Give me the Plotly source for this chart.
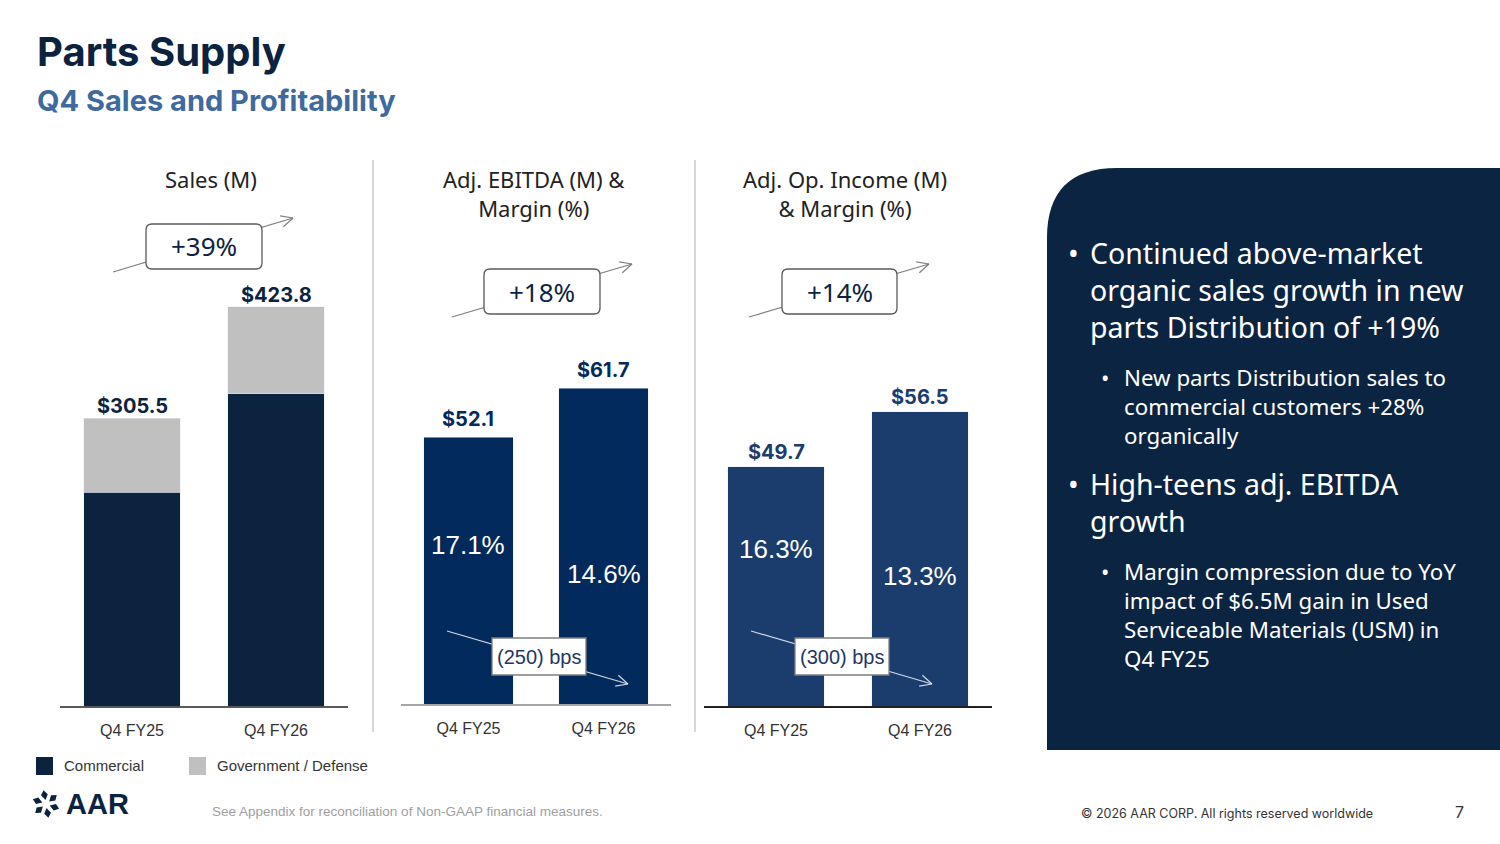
import math
import plotly.graph_objects as go

W, H = 1500, 844

# ---- data ----
quarters = ['Q4 FY25', 'Q4 FY26']
sales_total = [305.5, 423.8]
sales_commercial = [227.0, 331.4]
sales_govt = [round(t - c, 1) for t, c in zip(sales_total, sales_commercial)]
ebitda = [52.1, 61.7]
ebitda_margin = ['17.1%', '14.6%']
op_income = [49.7, 56.5]
op_margin = ['16.3%', '13.3%']
growth_labels = ['+39%', '+18%', '+14%']
bps_labels = ['(250) bps', '(300) bps']
panel_titles = ['Sales (M)', 'Adj. EBITDA (M) &<br>Margin (%)', 'Adj. Op. Income (M)<br>& Margin (%)']
segment_names = ['Commercial', 'Government / Defense']

NAVY = '#0c2340'
GREY = '#c0c0c0'
EBITDA_C = '#022a5c'
OPINC_C = '#1a3d6e'
PANEL = '#0b2441'
FONT = 'Inter, Noto Sans, sans-serif'
BODY = 'Noto Sans, sans-serif'
ARIAL = 'Liberation Sans, Arial, sans-serif'


def px(x):
    return x / W


def py(y):
    return 1 - y / H


fig = go.Figure()

fig.add_trace(go.Bar(x=quarters, y=sales_commercial, name=segment_names[0], marker_color=NAVY,
                     width=0.667, xaxis='x', yaxis='y'))
fig.add_trace(go.Bar(x=quarters, y=sales_govt, name=segment_names[1], marker_color=GREY,
                     width=0.667, xaxis='x', yaxis='y'))
fig.add_trace(go.Bar(x=quarters, y=ebitda, marker_color=EBITDA_C, width=0.66,
                     xaxis='x2', yaxis='y2'))
fig.add_trace(go.Bar(x=quarters, y=op_income, marker_color=OPINC_C, width=0.667,
                     xaxis='x3', yaxis='y3'))

axis_common = dict(showgrid=False, zeroline=False, showline=True, linewidth=1.5,
                   tickfont=dict(family=ARIAL, size=16, color='#333333'),
                   ticklabelstandoff=9, fixedrange=True)
yaxis_common = dict(showgrid=False, zeroline=False, showticklabels=False, showline=False, fixedrange=True)

fig.update_layout(
    width=W, height=H, margin=dict(l=0, r=0, t=0, b=0),
    paper_bgcolor='white', plot_bgcolor='rgba(0,0,0,0)',
    barmode='stack', showlegend=False,
    xaxis=dict(domain=[px(60), px(348)], anchor='y', linecolor='#595959', **axis_common),
    yaxis=dict(domain=[py(706), py(150)], range=[0, 590.5], **yaxis_common),
    xaxis2=dict(domain=[px(401), px(671)], anchor='y2', linecolor='#a6a6a6', **axis_common),
    yaxis2=dict(domain=[py(704), py(150)], range=[0, 108.2], **yaxis_common),
    xaxis3=dict(domain=[px(704), px(992)], anchor='y3', linecolor='#222222', **axis_common),
    yaxis3=dict(domain=[py(706), py(150)], range=[20.1, 88.9], **yaxis_common),
)

shapes = []
ann = []


def text(x, y, s, size, color, family=BODY, xanchor='center', yanchor='middle', **kw):
    ann.append(dict(x=px(x), y=py(y), xref='paper', yref='paper', text=s, showarrow=False,
                    xanchor=xanchor, yanchor=yanchor, font=dict(family=family, size=size, color=color), **kw))


# separators
for sx in [373, 695]:
    shapes.append(dict(type='line', xref='paper', yref='paper', x0=px(sx), x1=px(sx),
                       y0=py(160), y1=py(732), line=dict(color='#c8c8c8', width=1.5)))

# right panel with rounded corner
r = 70
x0, y0, x1, y1 = 1047, 168, 1500, 750
path = (f'M {px(x0)},{py(y1)} L {px(x0)},{py(y0 + r)} Q {px(x0)},{py(y0)} {px(x0 + r)},{py(y0)} '
        f'L {px(x1)},{py(y0)} L {px(x1)},{py(y1)} Z')
shapes.append(dict(type='path', xref='paper', yref='paper', path=path,
                   fillcolor=PANEL, line=dict(width=0), layer='below'))


def arrow(xa, ya, xb, yb, color, width=1.2):
    shapes.append(dict(type='line', xref='paper', yref='paper', x0=px(xa), y0=py(ya),
                       x1=px(xb), y1=py(yb), line=dict(color=color, width=width)))
    ang = math.atan2(yb - ya, xb - xa)
    L = 13
    for d in (0.45, -0.45):
        hx = xb - L * math.cos(ang + d)
        hy = yb - L * math.sin(ang + d)
        shapes.append(dict(type='line', xref='paper', yref='paper', x0=px(hx), y0=py(hy),
                           x1=px(xb), y1=py(yb), line=dict(color=color, width=width)))


def rbox(bx0, by0, bx1, by1, rad=6, border='#595959'):
    if rad:
        p = (f'M {px(bx0 + rad)},{py(by0)} L {px(bx1 - rad)},{py(by0)} Q {px(bx1)},{py(by0)} {px(bx1)},{py(by0 + rad)} '
             f'L {px(bx1)},{py(by1 - rad)} Q {px(bx1)},{py(by1)} {px(bx1 - rad)},{py(by1)} '
             f'L {px(bx0 + rad)},{py(by1)} Q {px(bx0)},{py(by1)} {px(bx0)},{py(by1 - rad)} '
             f'L {px(bx0)},{py(by0 + rad)} Q {px(bx0)},{py(by0)} {px(bx0 + rad)},{py(by0)} Z')
        shapes.append(dict(type='path', xref='paper', yref='paper', path=p, fillcolor='white',
                           line=dict(color=border, width=1.3)))
    else:
        shapes.append(dict(type='rect', xref='paper', yref='paper', x0=px(bx0), x1=px(bx1),
                           y0=py(by1), y1=py(by0), fillcolor='white', line=dict(color=border, width=1.3)))


# growth callouts
growth_geo = [((113, 272, 293, 218), (146, 224, 262, 269)),
              ((452, 317, 632, 264), (484, 269, 600, 314)),
              ((749, 317, 929, 264), (782, 269, 897, 314))]
for lbl, (ln, bx) in zip(growth_labels, growth_geo):
    arrow(*ln, color='#7f7f7f')
    rbox(*bx)
    text((bx[0] + bx[2]) / 2, (bx[1] + bx[3]) / 2, lbl, 26, NAVY)

# bps callouts
bps_geo = [((447, 631, 628, 684), (492, 638, 586, 675)),
           ((751, 631, 932, 684), (795, 638, 889, 675))]
for lbl, (ln, bx) in zip(bps_labels, bps_geo):
    arrow(*ln, color='#d0d8e6')
    rbox(*bx, rad=0, border='#7f7f7f')
    text((bx[0] + bx[2]) / 2, (bx[1] + bx[3]) / 2, lbl, 20, '#1f3864', family=ARIAL)

# value labels
for q, v in zip(quarters, sales_total):
    ann.append(dict(x=q, y=v, xref='x', yref='y', text=f'<b>${v:.1f}</b>', showarrow=False,
                    yanchor='bottom', yshift=-2, font=dict(family=FONT, size=20, color=NAVY)))
for q, v in zip(quarters, ebitda):
    ann.append(dict(x=q, y=v, xref='x2', yref='y2', text=f'<b>${v:.1f}</b>', showarrow=False,
                    yanchor='bottom', yshift=4, font=dict(family=FONT, size=20, color=EBITDA_C)))
for q, v in zip(quarters, op_income):
    ann.append(dict(x=q, y=v, xref='x3', yref='y3', text=f'<b>${v:.1f}</b>', showarrow=False,
                    yanchor='bottom', yshift=1, font=dict(family=FONT, size=20, color=OPINC_C)))

# margin labels inside bars
for q, m, yy in zip(quarters, ebitda_margin, [545, 574]):
    ann.append(dict(x=q, y=py(yy), xref='x2', yref='paper', text=m, showarrow=False,
                    yanchor='middle', font=dict(family=ARIAL, size=26, color='white')))
for q, m, yy in zip(quarters, op_margin, [549, 576]):
    ann.append(dict(x=q, y=py(yy), xref='x3', yref='paper', text=m, showarrow=False,
                    yanchor='middle', font=dict(family=ARIAL, size=26, color='white')))

# panel titles
for t, cx in zip(panel_titles, [211, 534, 845]):
    text(cx, 162, t, 22, '#222222', yanchor='top')

# headings
text(35, 52, '<b>Parts Supply</b>', 40, NAVY, family=FONT, xanchor='left')
text(35, 100, '<b>Q4 Sales and Profitability</b>', 29, '#3f6a9e', family=FONT, xanchor='left')

# right panel bullets
bullets = [
    (1066, 1088, 232, 28.5, 'Continued above-market<br>organic sales growth in new<br>parts Distribution of +19%'),
    (1099, 1122, 360, 22.3, 'New parts Distribution sales to<br>commercial customers +28%<br>organically'),
    (1066, 1088, 463, 28.5, 'High-teens adj. EBITDA<br>growth'),
    (1099, 1122, 554, 22.3, 'Margin compression due to YoY<br>impact of $6.5M gain in Used<br>Serviceable Materials (USM) in<br>Q4 FY25'),
]
for bx, tx, ty, fs, txt in bullets:
    text(bx, ty, '•', fs, 'white', xanchor='left', yanchor='top')
    text(tx, ty, txt, fs, 'white', xanchor='left', yanchor='top', align='left')

# legend
for (lx, col), name in zip([(36, NAVY), (189, GREY)], segment_names):
    shapes.append(dict(type='rect', xref='paper', yref='paper', x0=px(lx), x1=px(lx + 17),
                       y0=py(775), y1=py(757), fillcolor=col, line=dict(width=0)))
    text(lx + 26, 765, name, 15, '#333333', family=ARIAL, xanchor='left')

# logo
cx, cy, rr = 46, 804, 10
for k in range(6):
    a0 = math.radians(k * 60)
    a1 = math.radians(k * 60 + 40)
    pts = [(cx + rr * math.cos(a0), cy + rr * math.sin(a0)),
           (cx + (rr + 4) * math.cos((a0 + a1) / 2), cy + (rr + 4) * math.sin((a0 + a1) / 2)),
           (cx + rr * math.cos(a1), cy + rr * math.sin(a1)),
           (cx + (rr - 6) * math.cos(a1 - 0.3), cy + (rr - 6) * math.sin(a1 - 0.3))]
    p = f'M {px(pts[0][0])},{py(pts[0][1])} ' + ' '.join(f'L {px(a)},{py(b)}' for a, b in pts[1:]) + ' Z'
    shapes.append(dict(type='path', xref='paper', yref='paper', path=p, fillcolor=NAVY, line=dict(width=0)))
text(64, 804, '<b>AAR</b>', 29, NAVY, family=ARIAL, xanchor='left')

# footer
text(210, 811, 'See Appendix for reconciliation of Non-GAAP financial measures.', 13.5, '#a0a0a0',
     family=ARIAL, xanchor='left')
text(1079, 813, '© 2026 AAR CORP. All rights reserved worldwide', 12.5, '#333333', family=FONT, xanchor='left')
text(1459, 812, '7', 16, '#333333', family=FONT)

fig.update_layout(shapes=shapes, annotations=ann)

# drop the default page margin so the 1500x844 figure fills the window exactly
fig.write_html('out.html', config={'displayModeBar': False},
               post_script="document.body.style.margin='0';document.body.style.overflow='hidden';")
